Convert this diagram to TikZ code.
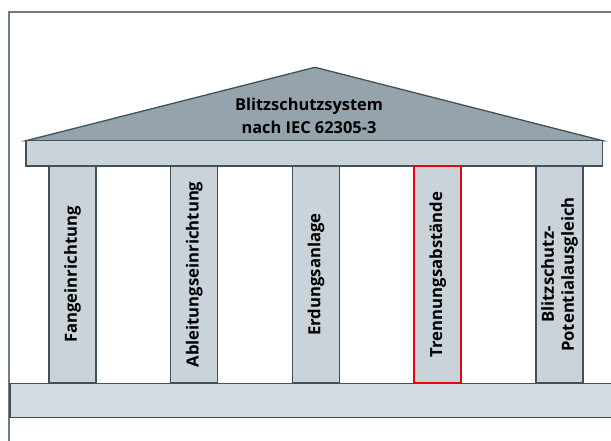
\documentclass[tikz,border=0pt]{standalone}
\usepackage{fontspec}
\setmainfont{Open Sans}
\usetikzlibrary{positioning}

\definecolor{roofgray}{HTML}{95A4AC}
\definecolor{beamgray}{HTML}{C9D3D9}
\definecolor{basegray}{HTML}{D4DCE2}
\definecolor{edgegray}{HTML}{3F5259}
\definecolor{framegray}{HTML}{6E7D85}
\definecolor{markred}{HTML}{E30613}

\begin{document}
\begin{tikzpicture}[x=1pt, y=-1pt,
            every node/.style={font=\bfseries\fontsize{16.7}{20}\selectfont, text=black, inner sep=0pt},
            pillar/.style={draw=edgegray, fill=beamgray, line width=1.2pt, rotate=90,
                           minimum width=217pt, minimum height=47pt, align=center},
            marked/.style={pillar, draw=markred, line width=2.4pt},
            slab/.style={draw=edgegray, line width=1.3pt}]
        \useasboundingbox (0,0) rectangle (611,441);
        \clip (0,0) rectangle (611,441);
        % frame
        \draw[framegray, line width=2pt] (9.3,450) |- (620,11.7);
        % roof
        \draw[slab, fill=roofgray, line join=miter] (26,140.7) coordinate (eaveL)
              -- (315,67.3) coordinate (apex) -- (602.7,140.7) coordinate (eaveR) -- cycle;
        \node[align=center, font=\bfseries\fontsize{16.4}{22.7}\selectfont] (title) at (309,116)
              {Blitzschutzsystem\\nach IEC 62305-3};
        % beam and base
        \node[slab, fill=beamgray, minimum width=576.7pt, minimum height=25.3pt] (beam) at (314.35,153.35) {};
        \node[slab, fill=basegray, minimum width=620pt, minimum height=33.7pt, anchor=north west] (base) at (9.3,383) {};
        % pillars
        \node[pillar] (fang) at (72.5,274.5) {Fangeinrichtung};
        \node[pillar] (ableit) at (194.25,274.5) {Ableitungseinrichtung};
        \node[pillar] (erdung) at (316,274.5) {Erdungsanlage};
        \node[marked] (trenn) at (437.75,274.5) {Trennungsabstände};
        \node[pillar] (ausgl) at (559.5,274.5) {Blitzschutz-\\Potentialausgleich};
\end{tikzpicture}
\end{document}
